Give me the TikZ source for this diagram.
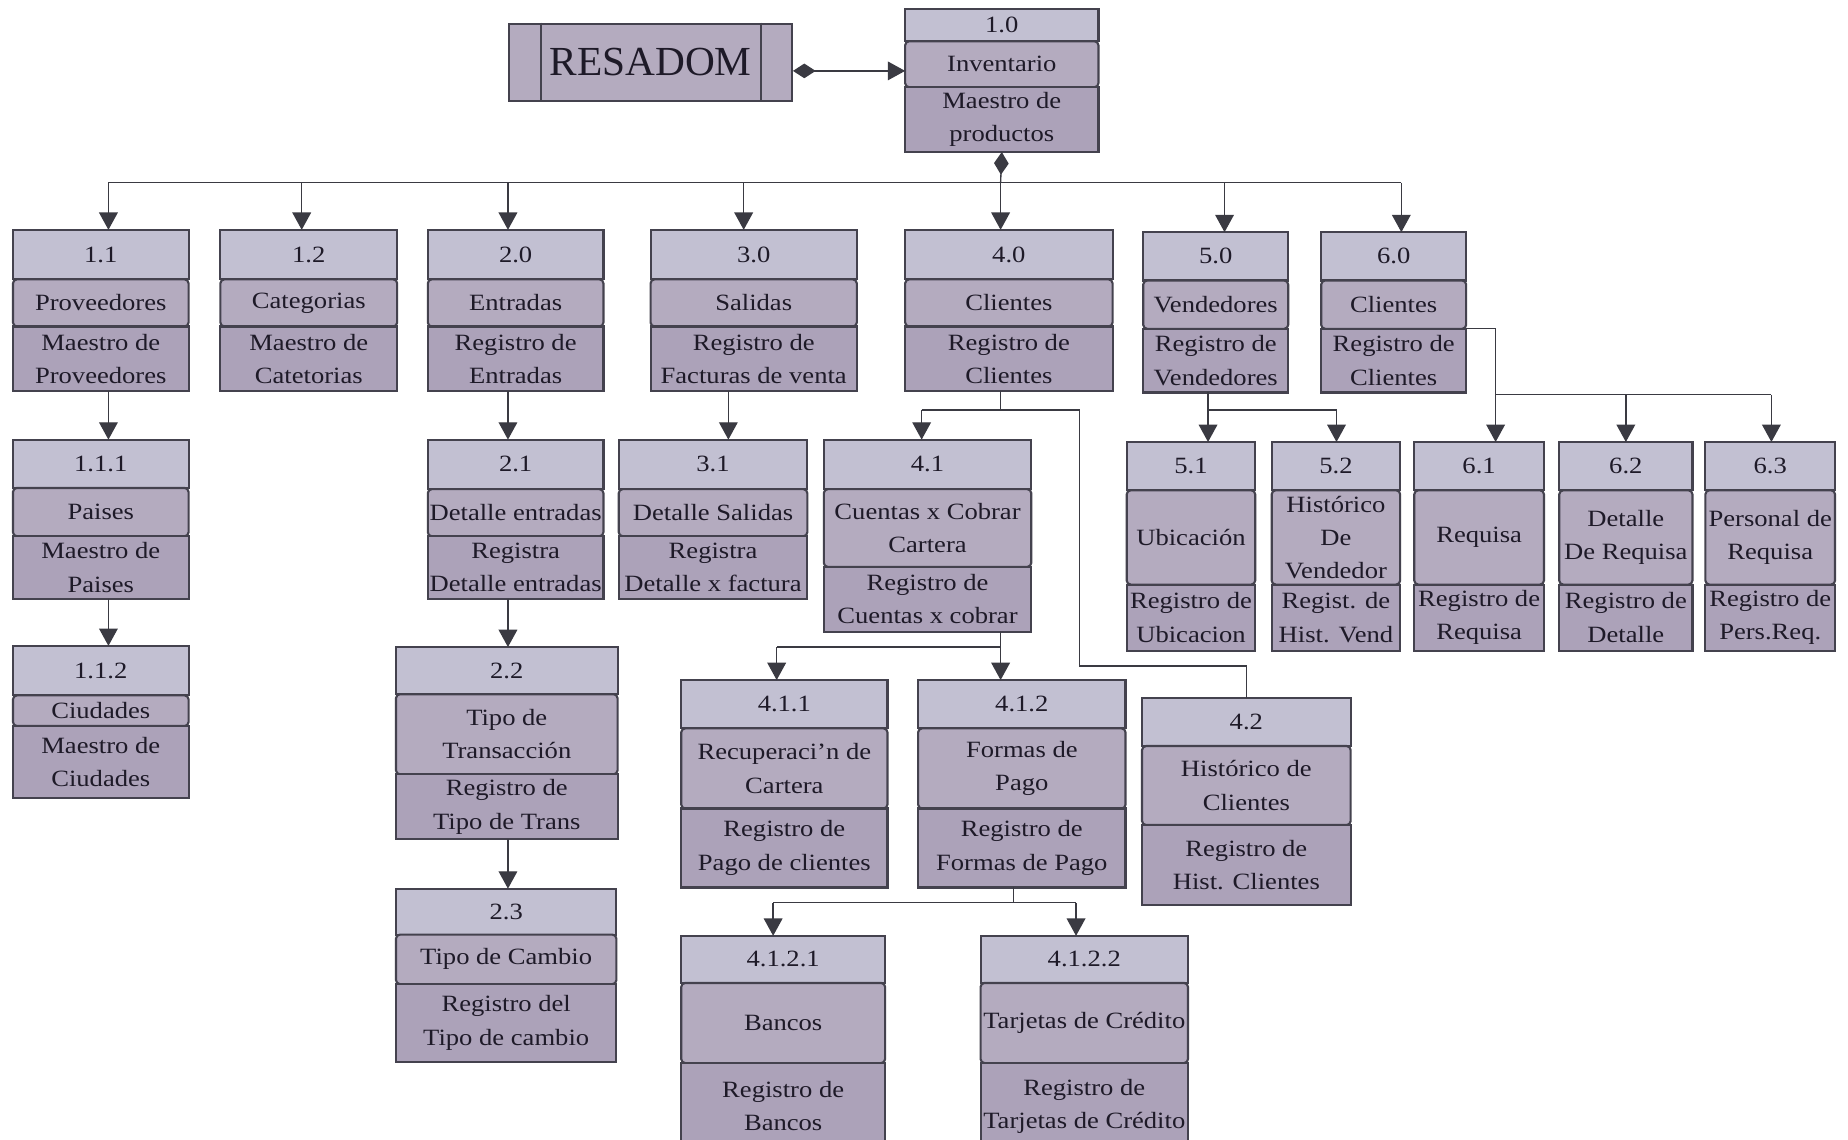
\documentclass[tikz,border=0pt]{standalone}
\usepackage{fontspec}
\setmainfont{Liberation Serif}[FakeStretch=1.14]
\newfontfamily\titlefont{Liberation Serif}
\usetikzlibrary{arrows.meta}

\definecolor{celltop}{RGB}{194,192,210}
\definecolor{cellmid}{RGB}{180,171,191}
\definecolor{cellbot}{RGB}{172,162,185}
\definecolor{edge}{RGB}{68,66,78}
\definecolor{ink}{RGB}{30,26,40}
\definecolor{wire}{RGB}{58,58,66}

\tikzset{
  cell/.style={draw=edge, line width=1.6pt, inner sep=0pt, outer sep=0pt,
    align=center, text=ink, font=\fontsize{17.5}{25}\selectfont},
  topcell/.style={cell, fill=celltop},
  midcell/.style={cell, fill=cellmid, rounded corners=3pt},
  botcell/.style={cell, fill=cellbot},
  wire/.style={draw=wire, line width=1pt},
  arr/.style={wire, -{Triangle[width=14pt,length=13pt]}},
  dia/.style={wire, {Diamond[width=11pt,length=17pt]}-},
}

% A three-part module box: #1 name, #2/#3 left/right x, #4 top y,
% #5/#6 the two dividers, #7 bottom y, #8 number, #9 title;
% the register text follows as one more argument.
\newcommand\ubox[9]{%
  \pgfmathsetmacro\uboxw{(#3-#2)*0.884}%
  \pgfmathsetmacro\uboxha{(#5-#4)*0.884}%
  \pgfmathsetmacro\uboxhb{(#6-#5)*0.884}%
  \pgfmathsetmacro\uboxhc{(#7-#6)*0.884}%
  \pgfmathsetmacro\uboxx{(#2+#3)/2}%
  \pgfmathsetmacro\uboxyc{(#6+#7)/2}%
  \node[topcell, minimum width=\uboxw pt, minimum height=\uboxha pt]
    (#1-t) at (\uboxx,{(#4+#5)/2}) {#8};
  \node[midcell, minimum width=\uboxw pt, minimum height=\uboxhb pt]
    (#1-m) at (\uboxx,{(#5+#6)/2}) {#9};
  \def\uboxname{#1}%
  \uboxbottom}
\newcommand\uboxbottom[1]{%
  \node[botcell, minimum width=\uboxw pt, minimum height=\uboxhc pt]
    (\uboxname-b) at (\uboxx,\uboxyc) {#1};}

\begin{document}
\begin{tikzpicture}[x=0.884pt, y=-0.884pt]
\fill[white] (0,0) rectangle (1568,967);
\useasboundingbox (0,0) rectangle (1568,967);

% system title
\node[draw=edge, line width=1.6pt, fill=cellmid, inner sep=0pt, text=ink,
  font=\titlefont\fontsize{31}{31}\selectfont,
  minimum width=212pt, minimum height=58pt] (res) at (552,53) {RESADOM};
\draw[edge, line width=1.6pt] (res.north west) ++(28,0) -- ++(0,66);
\draw[edge, line width=1.6pt] (res.north east) ++(-27,0) -- ++(0,66);

% root
\ubox{b10}{768}{932}{8}{35}{74}{129}{1.0}{Inventario}{Maestro de\\productos}

% first level
\ubox{b11}{11}{160}{195}{237}{277}{332}{1.1}{Proveedores}{Maestro de\\Proveedores}
\ubox{b12}{187}{337}{195}{237}{277}{332}{1.2}{Categorias}{Maestro de\\Catetorias}
\ubox{b20}{363}{512}{195}{237}{277}{332}{2.0}{Entradas}{Registro de\\Entradas}
\ubox{b30}{552}{727}{195}{237}{277}{332}{3.0}{Salidas}{Registro de\\Facturas de venta}
\ubox{b40}{768}{944}{195}{237}{277}{332}{4.0}{Clientes}{Registro de\\Clientes}
\ubox{b50}{970}{1093}{197}{238}{279}{333}{5.0}{Vendedores}{Registro de\\Vendedores}
\ubox{b60}{1121}{1244}{197}{238}{279}{333}{6.0}{Clientes}{Registro de\\Clientes}

% branch 1
\ubox{b111}{11}{160}{373}{414}{455}{508}{1.1.1}{Paises}{Maestro de\\Paises}
\ubox{b112}{11}{160}{548}{590}{616}{677}{1.1.2}{Ciudades}{Maestro de\\Ciudades}

% branch 2
\ubox{b21}{363}{512}{373}{415}{455}{508}{2.1}{Detalle entradas}{Registra\\Detalle entradas}
\ubox{b22}{336}{524}{549}{589}{657}{712}{2.2}{Tipo de\\Transacción}{Registro de\\Tipo de Trans}
\ubox{b23}{336}{523}{754}{793}{835}{901}{2.3}{Tipo de Cambio}{Registro del\\Tipo de cambio}

% branch 3
\ubox{b31}{525}{685}{373}{415}{455}{508}{3.1}{Detalle Salidas}{Registra\\Detalle x factura}

% branch 4
\ubox{b41}{699}{875}{373}{415}{481}{536}{4.1}{Cuentas x Cobrar\\Cartera}{Registro de\\Cuentas x cobrar}
\ubox{b411}{578}{753}{577}{618}{686}{753}{4.1.1}{Recuperaci'n de\\Cartera}{Registro de\\Pago de clientes}
\ubox{b412}{779}{955}{577}{618}{686}{753}{4.1.2}{Formas de\\Pago}{Registro de\\Formas de Pago}
\ubox{b42}{969}{1146}{592}{633}{700}{768}{4.2}{Histórico de\\Clientes}{Registro de\\Hist. Clientes}
\ubox{b4121}{578}{751}{794}{834}{902}{975}{4.1.2.1}{Bancos}{Registro de\\Bancos}
\ubox{b4122}{832}{1008}{794}{834}{902}{975}{4.1.2.2}{Tarjetas de Crédito}{Registro de\\Tarjetas de Crédito}

% branch 5
\ubox{b51}{956}{1065}{375}{416}{496}{552}{5.1}{Ubicación}{Registro de\\Ubicacion}
\ubox{b52}{1079}{1188}{375}{416}{496}{552}{5.2}{Histórico\\De\\Vendedor}{Regist. de\\Hist. Vend}

% branch 6
\ubox{b61}{1200}{1310}{375}{416}{496}{552}{6.1}{Requisa}{Registro de\\Requisa}
\ubox{b62}{1323}{1436}{375}{416}{496}{552}{6.2}{Detalle\\De Requisa}{Registro de\\Detalle}
\ubox{b63}{1447}{1557}{375}{416}{496}{552}{6.3}{Personal de\\Requisa}{Registro de\\Pers.Req.}

% title to root
\coordinate (rootin) at ([yshift=-5pt]b10-m.west);
\draw[wire, {Diamond[width=11pt,length=17pt]}-{Triangle[width=14pt,length=13pt]}]
  (res.east |- rootin) -- (rootin);

% root to first level
\coordinate (bus) at (849,155);
\coordinate (busL) at (92,155);
\coordinate (busR) at (1189,155);
\draw[dia] (b10-b.south) -- (bus);
\draw[wire] (busL) -- (busR);
\foreach \n/\x in {b11/92, b12/256, b20/431, b30/631, b40/849, b50/1039, b60/1189}
  \draw[arr] (\x,155) -- (\n-t.north -| \x,155);

% branch 1
\draw[arr] (b11-b.south -| 92,0) -- (b111-t.north -| 92,0);
\draw[arr] (b111-b.south -| 92,0) -- (b112-t.north -| 92,0);

% branch 2
\draw[arr] (b20-b.south -| 431,0) -- (b21-t.north -| 431,0);
\draw[arr] (b21-b.south -| 431,0) -- (b22-t.north -| 431,0);
\draw[arr] (b22-b.south -| 431,0) -- (b23-t.north -| 431,0);

% branch 3
\draw[arr] (b30-b.south -| 618,0) -- (b31-t.north -| 618,0);

% branch 4
\coordinate (j40) at (849,348);
\coordinate (j40l) at (782,348);
\coordinate (j40r) at (916,348);
\coordinate (k40) at (916,565);
\draw[wire] (b40-b.south -| j40) -- (j40);
\draw[wire] (j40l) -- (j40r);
\draw[arr] (j40l) -- (b41-t.north -| j40l);
\draw[wire] (j40r) -- (k40) -| (b42-t.north);

\coordinate (j41) at (849,549);
\coordinate (j41l) at (659,549);
\draw[wire] (b41-b.south -| j41) -- (j41) -- (j41l);
\draw[arr] (j41l) -- (b411-t.north -| j41l);
\draw[arr] (j41) -- (b412-t.north -| j41);

\coordinate (j412) at (860,766);
\coordinate (j412l) at (656,766);
\coordinate (j412r) at (913,766);
\draw[wire] (b412-b.south -| j412) -- (j412);
\draw[wire] (j412l) -- (j412r);
\draw[arr] (j412l) -- (b4121-t.north -| j412l);
\draw[arr] (j412r) -- (b4122-t.north -| j412r);

% branch 5
\coordinate (j50) at (1025,348);
\coordinate (j50r) at (1134,348);
\draw[wire] (b50-b.south -| j50) -- (j50) -- (j50r);
\draw[arr] (j50) -- (b51-t.north -| j50);
\draw[arr] (j50r) -- (b52-t.north -| j50r);

% branch 6
\coordinate (j60) at (1269,335);
\coordinate (j60r) at (1503,335);
\draw[wire] (b60-m.south east) -| (j60) -- (j60r);
\draw[arr] (j60) -- (b61-t.north -| j60);
\draw[arr] (j60 -| b62-t.north) -- (b62-t.north);
\draw[arr] (j60r) -- (b63-t.north -| j60r);
\end{tikzpicture}
\end{document}
